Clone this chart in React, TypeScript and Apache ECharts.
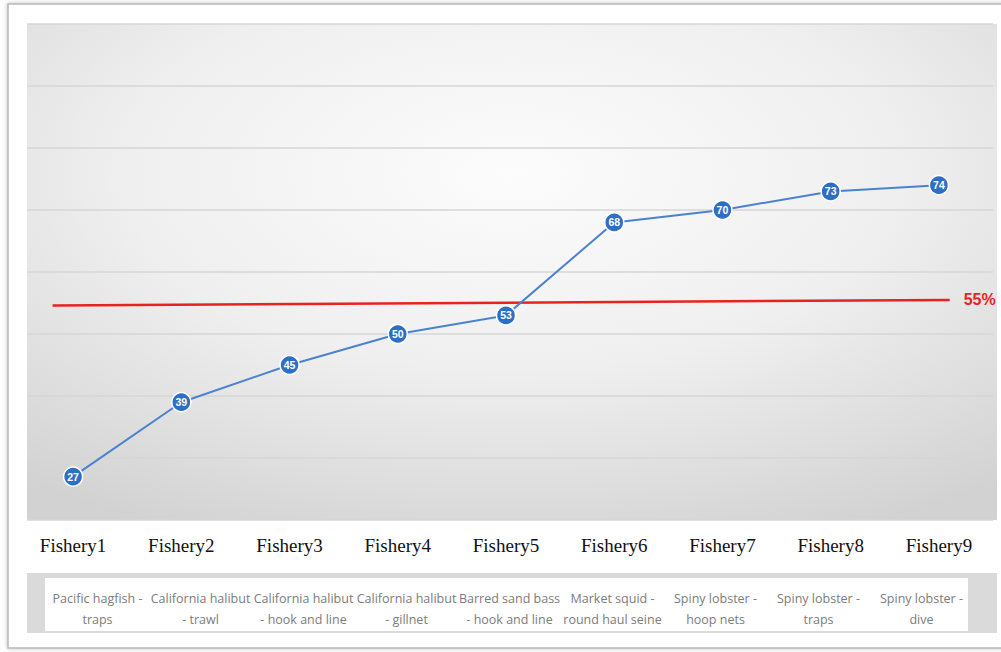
import React, { useEffect, useRef } from "react";
import * as echarts from "echarts";

const categories = ["Fishery1", "Fishery2", "Fishery3", "Fishery4", "Fishery5", "Fishery6", "Fishery7", "Fishery8", "Fishery9"];
const values = [27, 39, 45, 50, 53, 68, 70, 73, 74];
const fisheryNames = [
  "Pacific hagfish -\ntraps",
  "California halibut\n- trawl",
  "California halibut\n- hook and line",
  "California halibut\n- gillnet",
  "Barred sand bass\n- hook and line",
  "Market squid -\nround haul seine",
  "Spiny lobster -\nhoop nets",
  "Spiny lobster -\ntraps",
  "Spiny lobster -\ndive",
];
const thresholdLabel = "55%";
const thresholdX = [-0.19, 8.1];
const thresholdY = [54.6, 55.5];

export default function App() {
  const ref = useRef<HTMLDivElement>(null);
  useEffect(() => {
    if (!ref.current) return;
    const chart = echarts.init(ref.current, undefined, { renderer: "svg" });
    chart.setOption({
      animation: false,
      backgroundColor: "#ffffff",
      graphic: [
        {
          type: "rect",
          z: -10,
          shape: { x: 8, y: 4, width: 1000, height: 644 },
          style: { fill: "#ffffff", stroke: "#b8b8b8", lineWidth: 1.5, shadowBlur: 4, shadowColor: "rgba(0,0,0,0.25)" },
        },
        {
          type: "rect",
          z: -9,
          shape: { x: 27, y: 24, width: 970, height: 496 },
          style: {
            fill: new echarts.graphic.RadialGradient(0.5, 0.3, 0.8, [
              { offset: 0, color: "#fcfcfc" },
              { offset: 0.5, color: "#efefef" },
              { offset: 1, color: "#d2d2d2" },
            ]),
          },
        },
        {
          type: "rect",
          z: 50,
          shape: { x: 10, y: 22, width: 17, height: 500 },
          style: { fill: "#ffffff" },
        },
        {
          type: "rect",
          z: -9,
          shape: { x: 27, y: 573, width: 970, height: 60 },
          style: { fill: "#dadada" },
        },
        {
          type: "rect",
          z: -8,
          shape: { x: 45, y: 578, width: 923, height: 53 },
          style: { fill: "#ffffff" },
        },
      ],
      grid: [
        { left: 19, right: 8, top: 24, bottom: 132 },
        { left: 46, right: 28, top: 577, height: 1 },
      ],
      xAxis: [
        {
          type: "category",
          gridIndex: 0,
          data: categories,
          boundaryGap: true,
          axisLine: { show: false },
          axisTick: { show: false },
          axisLabel: { margin: 16, fontFamily: "Liberation Serif", fontSize: 19, color: "#111" },
        },
        {
          type: "value",
          gridIndex: 0,
          min: -0.5,
          max: 8.5,
          show: false,
        },
        {
          type: "category",
          gridIndex: 1,
          data: fisheryNames,
          axisLine: { show: false },
          axisTick: { show: false },
          axisLabel: { margin: 10, fontFamily: "Open Sans", fontSize: 12.5, lineHeight: 21, color: "#7c7c7c", interval: 0 },
        },
      ],
      yAxis: [
        {
          type: "value",
          gridIndex: 0,
          min: 20,
          max: 100,
          interval: 10,
          axisLabel: { show: false },
          axisLine: { show: false },
          axisTick: { show: false },
          splitLine: { lineStyle: { color: "#d6d6d6", width: 1.5 } },
        },
        { type: "value", gridIndex: 1, show: false, min: 0, max: 1 },
      ],
      series: [
        {
          type: "line",
          xAxisIndex: 1,
          yAxisIndex: 0,
          data: [
            [thresholdX[0], thresholdY[0]],
            [thresholdX[1], thresholdY[1]],
          ],
          symbol: "none",
          lineStyle: { color: "#e8231f", width: 2.5 },
          endLabel: {
            show: true,
            formatter: thresholdLabel,
            color: "#e8231f",
            fontWeight: "bold",
            fontSize: 16,
            fontFamily: "Liberation Sans Narrow, Liberation Sans",
            distance: 14,
          },
          z: 2,
        },
        {
          type: "line",
          xAxisIndex: 0,
          yAxisIndex: 0,
          data: values,
          symbol: "circle",
          symbolSize: 19,
          lineStyle: { color: "#4a82d0", width: 2 },
          itemStyle: { color: "#2d6fc4", borderColor: "#ffffff", borderWidth: 1.5 },
          label: {
            show: true,
            position: "inside",
            color: "#ffffff",
            fontWeight: "bold",
            fontSize: 10.5,
            fontFamily: "Liberation Sans",
          },
          z: 3,
        },
      ],
    });
    return () => chart.dispose();
  }, []);
  return <div ref={ref} style={{ position: "fixed", left: 0, top: 0, width: 1001, height: 652 }} />;
}
